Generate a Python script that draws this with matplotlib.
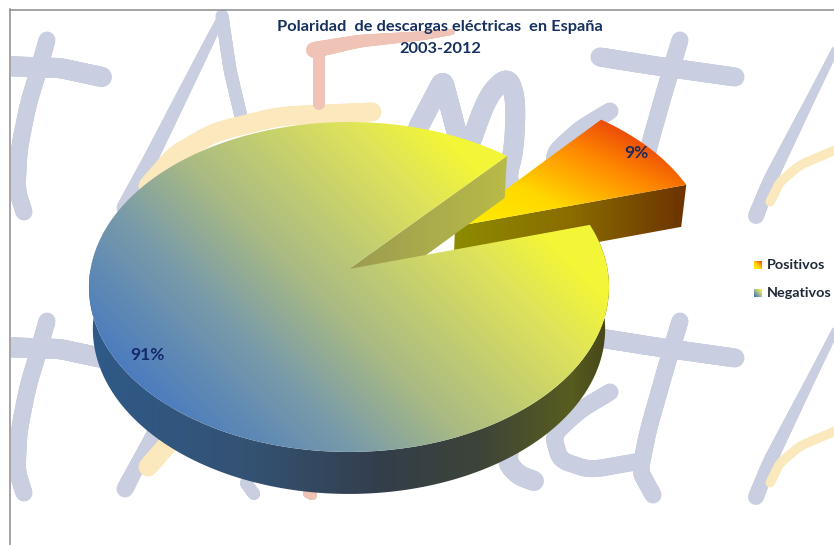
import numpy as np
import matplotlib
matplotlib.use("Agg")
import matplotlib.pyplot as plt
from matplotlib.collections import LineCollection
from matplotlib.colors import LinearSegmentedColormap
from matplotlib.patches import Polygon, Rectangle

# Share of lightning discharges by polarity
polarity_labels = ["Positivos", "Negativos"]
polarity_share = [9, 91]
title_lines = ["Polaridad  de descargas eléctricas  en España", "2003-2012"]

W, H = 834, 545
FONT = "Lato"

fig = plt.figure(figsize=(W / 100, H / 100), dpi=100, facecolor="white")
ax = fig.add_axes([0, 0, 1, 1])
ax.set_xlim(0, W)
ax.set_ylim(H, 0)
ax.axis("off")

# ---- faint logo strokes tiled behind the pie ----
BLUE, PEACH, SALMON = "#c9cfe0", "#fbe9bd", "#efc3b5"
PX = 0.72
logo_area = Rectangle((11, 10), W - 11, H - 10, transform=ax.transData, fc="none", ec="none")
ax.add_patch(logo_area)


def stroke(points, color, width, dy=0):
    """Brush stroke along the points; width may be a (start, end) pair for a taper."""
    pts = np.array(points, float)
    s = np.arange(len(pts))
    fine = np.linspace(0, len(pts) - 1, 90)
    xs = np.interp(fine, s, pts[:, 0])
    ys = np.interp(fine, s, pts[:, 1]) + dy
    # light smoothing so the strokes curve instead of kinking
    kernel = np.ones(11) / 11
    xs[5:-5] = np.convolve(xs, kernel, "valid")
    ys[5:-5] = np.convolve(ys, kernel, "valid")
    w0, w1 = width if isinstance(width, tuple) else (width, width)
    xy = np.column_stack([xs, ys])
    segments = np.stack([xy[:-1], xy[1:]], axis=1)
    lc = LineCollection(segments, colors=color, linewidths=np.linspace(w0, w1, 89) * PX,
                        capstyle="round", zorder=1)
    ax.add_collection(lc)
    lc.set_clip_path(logo_area)


logo = [
    ([(2, 66), (60, 68), (102, 77)], BLUE, 20),
    ([(47, 40), (38, 72), (28, 105), (19, 150), (17, 190), (24, 212)], BLUE, 17),
    ([(222, 16), (205, 50), (180, 100), (150, 160), (125, 208)], BLUE, (8, 17)),
    ([(222, 16), (230, 70), (243, 125)], BLUE, 13),
    ([(418, 128), (443, 80), (456, 130)], BLUE, 20),
    ([(468, 150), (488, 95), (508, 76), (516, 100), (514, 150), (506, 180), (518, 194), (534, 200)], BLUE, 20),
    ([(600, 57), (650, 65), (735, 77)], BLUE, 19),
    ([(680, 40), (665, 90), (648, 150), (640, 190), (653, 214)], BLUE, 17),
    ([(610, 111), (580, 129), (553, 154), (560, 179), (590, 189), (635, 181)], BLUE, 17),
    ([(840, 40), (810, 100), (790, 140), (770, 180), (756, 216)], BLUE, (7, 16)),
    ([(840, 148), (800, 165), (780, 182), (770, 202)], PEACH, 9),
    ([(148, 186), (175, 155), (215, 132), (280, 116), (372, 112)], PEACH, 19),
]
for pts, col, lw in logo:
    stroke(pts, col, lw)
    stroke(pts, col, lw, dy=281)

stroke([(314, 50), (360, 41), (420, 36), (452, 32)], SALMON, (16, 6))
stroke([(319, 50), (319, 104)], SALMON, 12)
stroke([(246, 483), (254, 494)], BLUE, 12)
stroke([(308, 493), (312, 495)], SALMON, 10)

# frame lines along the top and left of the chart area
ax.plot([10, W], [9.5, 9.5], color="#8c8c8c", lw=1.1, zorder=2)
ax.plot([10.5, 10.5], [9, H], color="#8c8c8c", lw=1.1, zorder=2)

# ---- projected pie geometry ----
CX, CY = 349.0, 269.0
A, B, K = 258.5, 163.0, 0.109
DEPTH = 42.0
EXPLODE = 0.5
START = 16.2


def project(u, v, lower=False):
    """Project disc coordinates onto the page; lower=True gives the underside."""
    w = 1 + K * v
    a = A * 0.985 if lower else A
    return CX + a * u / w, CY + (DEPTH if lower else 0) - B * v / w


def sector(theta1, theta2, offset=(0, 0), lower=False, n=160):
    t = np.radians(np.linspace(theta1, theta2, n))
    x, y = project(np.cos(t) + offset[0], np.sin(t) + offset[1], lower)
    ax0, ay0 = project(offset[0], offset[1], lower)
    return np.vstack([[ax0, ay0], np.column_stack([x, y])])


def rim_band(theta1, theta2):
    t = np.radians(np.linspace(theta1, theta2, 160))
    top = np.column_stack(project(np.cos(t), np.sin(t)))
    low = np.column_stack(project(np.cos(t), np.sin(t), True))
    return np.vstack([top, low[::-1]])


def radial_face(theta, offset=(0, 0)):
    t = np.radians(theta)
    u, v = offset
    return np.array([project(u, v), project(u + np.cos(t), v + np.sin(t)),
                     project(u + np.cos(t), v + np.sin(t), True), project(u, v, True)])


yy, xx = np.mgrid[0:H, 0:W] + 0.5


def paint(outline, field, stops, zorder):
    cmap = LinearSegmentedColormap.from_list("fill", stops)
    im = ax.imshow(np.clip(field, 0, 1), extent=(0, W, H, 0), cmap=cmap, vmin=0, vmax=1,
                   aspect="auto", interpolation="bilinear", zorder=zorder)
    clip = Polygon(outline, closed=True, transform=ax.transData, fc="none", ec="none")
    ax.add_patch(clip)
    im.set_clip_path(clip)


MAIN_TOP = [(0, "#4779c0"), (0.3, "#7a9ca8"), (0.5, "#a9ba84"), (0.85, "#dfe35a"), (1, "#f3f636")]
SLICE_TOP = [(0, "#fff000"), (0.4, "#ffd800"), (0.75, "#ff8a00"), (1, "#ec4a08")]
MAIN_WALL = [(0, "#2f5a88"), (0.31, "#345273"), (0.56, "#333e4c"),
             (0.75, "#3d4438"), (0.93, "#585c20"), (1, "#454718")]
SLICE_WALL = [(0, "#8d8b00"), (0.5, "#8a6c00"), (1, "#6c3200")]
NOTCH_WALL = [(0, "#9c9c50"), (1, "#b8ba48")]

sweep = polarity_share[0] / sum(polarity_share) * 360
mid = np.radians(START + sweep / 2)
shift = (EXPLODE * np.cos(mid), EXPLODE * np.sin(mid))

# detached slice: front face, then top
paint(radial_face(START, shift), (xx - 455) / 233, SLICE_WALL, 3)
paint(sector(START, START + sweep, shift), (xx - 2 * yy) / 367, SLICE_TOP, 4)

# main body: outer wall, inner notch wall, then top surface
paint(rim_band(180, 360 + START), (xx - 90) / 518, MAIN_WALL, 5)
paint(radial_face(START + sweep), (xx - 350) / 156, NOTCH_WALL, 6)
paint(sector(START + sweep, 360 + START), (xx - yy + 260) / 570, MAIN_TOP, 7)

# ---- texts ----
NAVY = "#16305f"
ax.text(440, 27, title_lines[0], ha="center", va="center", color=NAVY,
        fontsize=11.8, fontweight="bold", family=FONT, zorder=9)
ax.text(440, 49, title_lines[1], ha="center", va="center", color=NAVY,
        fontsize=11.8, fontweight="bold", family=FONT, zorder=9)

ax.text(636, 153, f"{polarity_share[0]}%", ha="center", va="center", color="#1c2a5c",
        fontsize=12.5, fontweight="bold", family=FONT, zorder=9)
ax.text(147, 355, f"{polarity_share[1]}%", ha="center", va="center", color="#14286c",
        fontsize=12.5, fontweight="bold", family=FONT, zorder=9)

# legend with gradient swatches
swatches = [(SLICE_TOP, 265), (MAIN_TOP, 293)]
for (stops, y), label in zip(swatches, polarity_labels):
    cmap = LinearSegmentedColormap.from_list("swatch", stops)
    sy, sx = np.mgrid[0:1:8j, 0:1:8j]
    ax.imshow(np.clip((sx + (1 - sy)) / 2, 0, 1), extent=(754, 762, y + 4, y - 4), cmap=cmap,
              vmin=0, vmax=1, aspect="auto", interpolation="bilinear", zorder=8)
    ax.text(767, y, label, ha="left", va="center", color="#202a38", fontsize=10.4,
            fontweight="bold", family=FONT, zorder=9)

ax.set_xlim(0, W)
ax.set_ylim(H, 0)
fig.savefig("out.png", dpi=100, facecolor="white")
